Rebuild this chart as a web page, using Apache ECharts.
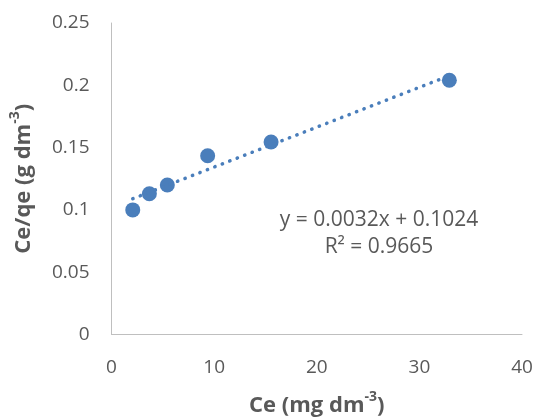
<!DOCTYPE html>
<html>
<head>
<meta charset="utf-8">
<script src="https://cdn.jsdelivr.net/npm/echarts@6/dist/echarts.min.js"></script>
<style>
  html, body { margin: 0; padding: 0; background: #ffffff; }
  #chart { width: 536px; height: 417px; }
</style>
</head>
<body>
<div id="chart"></div>
<script>
// Langmuir linear plot: Ce against Ce/qe
const ce = [2.07, 3.69, 5.44, 9.37, 15.55, 32.92];
const ceOverQe = [0.100, 0.113, 0.120, 0.1435, 0.1545, 0.204];

// Linear fit reported on the chart
const slope = 0.0032;
const intercept = 0.1024;
const rSquared = '0.9665';

// Axis ranges
const xMin = 0, xMax = 40, xStep = 10;
const yMin = 0, yMax = 0.25, yStep = 0.05;

const markerColor = '#4a7ebb';
const textColor = '#595959';
const fontFamily = '"Open Sans", "Liberation Sans", sans-serif';

const points = ce.map((x, i) => [x, ceOverQe[i]]);
const fitX = [Math.min(...ce), Math.max(...ce)];
const fitLine = fitX.map(x => [x, slope * x + intercept]);

const chart = echarts.init(document.getElementById('chart'), null, { renderer: 'canvas' });

const titleRich = {
  b: { fontSize: 22, fontWeight: 'bold', color: textColor, fontFamily: fontFamily, lineHeight: 26, verticalAlign: 'bottom' },
  s: { fontSize: 14, fontWeight: 'bold', color: textColor, fontFamily: fontFamily, lineHeight: 26, verticalAlign: 'top' }
};

chart.setOption({
  backgroundColor: '#ffffff',
  animation: false,
  textStyle: { fontFamily: fontFamily },
  grid: { left: 111.5, right: 14, top: 23, bottom: 82.5, containLabel: false, outerBoundsMode: 'none' },
  xAxis: {
    type: 'value',
    min: xMin, max: xMax, interval: xStep,
    splitLine: { show: false },
    axisTick: { show: false },
    axisLine: { show: true, onZero: false, lineStyle: { color: '#bfbfbf', width: 1 } },
    axisLabel: { color: textColor, fontSize: 19, margin: 24, fontFamily: fontFamily },
    name: '{b|Ce (mg dm}{s|-3}{b|)}',
    nameLocation: 'middle',
    nameGap: 56,
    nameTextStyle: { rich: titleRich }
  },
  yAxis: {
    type: 'value',
    min: yMin, max: yMax, interval: yStep,
    splitLine: { show: false },
    axisTick: { show: false },
    axisLine: { show: true, onZero: false, lineStyle: { color: '#bfbfbf', width: 1 } },
    axisLabel: { color: textColor, fontSize: 19, margin: 22, fontFamily: fontFamily },
    name: '{b|Ce/qe (g dm}{s|-3}{b|)}',
    nameLocation: 'middle',
    nameGap: 77,
    nameRotate: 90,
    nameTextStyle: { rich: titleRich }
  },
  series: [
    {
      name: 'Ce/qe',
      type: 'scatter',
      data: points,
      symbol: 'circle',
      symbolSize: 15,
      itemStyle: { color: markerColor, opacity: 1 },
      z: 2
    },
    {
      name: 'Linear fit',
      type: 'line',
      data: fitLine,
      symbol: 'none',
      silent: true,
      lineStyle: { color: markerColor, width: 3.5, type: [0.3, 7.7], cap: 'round', opacity: 1 },
      z: 3
    }
  ],
  graphic: [
    {
      type: 'text',
      x: 379, y: 220,
      style: {
        text: 'y = ' + slope.toFixed(4) + 'x + ' + intercept.toFixed(4),
        align: 'center', verticalAlign: 'middle',
        fill: textColor, fontSize: 21, fontFamily: fontFamily
      }
    },
    {
      type: 'text',
      x: 379, y: 247,
      style: {
        text: 'R² = ' + rSquared,
        align: 'center', verticalAlign: 'middle',
        fill: textColor, fontSize: 21, fontFamily: fontFamily
      }
    }
  ]
});
</script>
</body>
</html>
